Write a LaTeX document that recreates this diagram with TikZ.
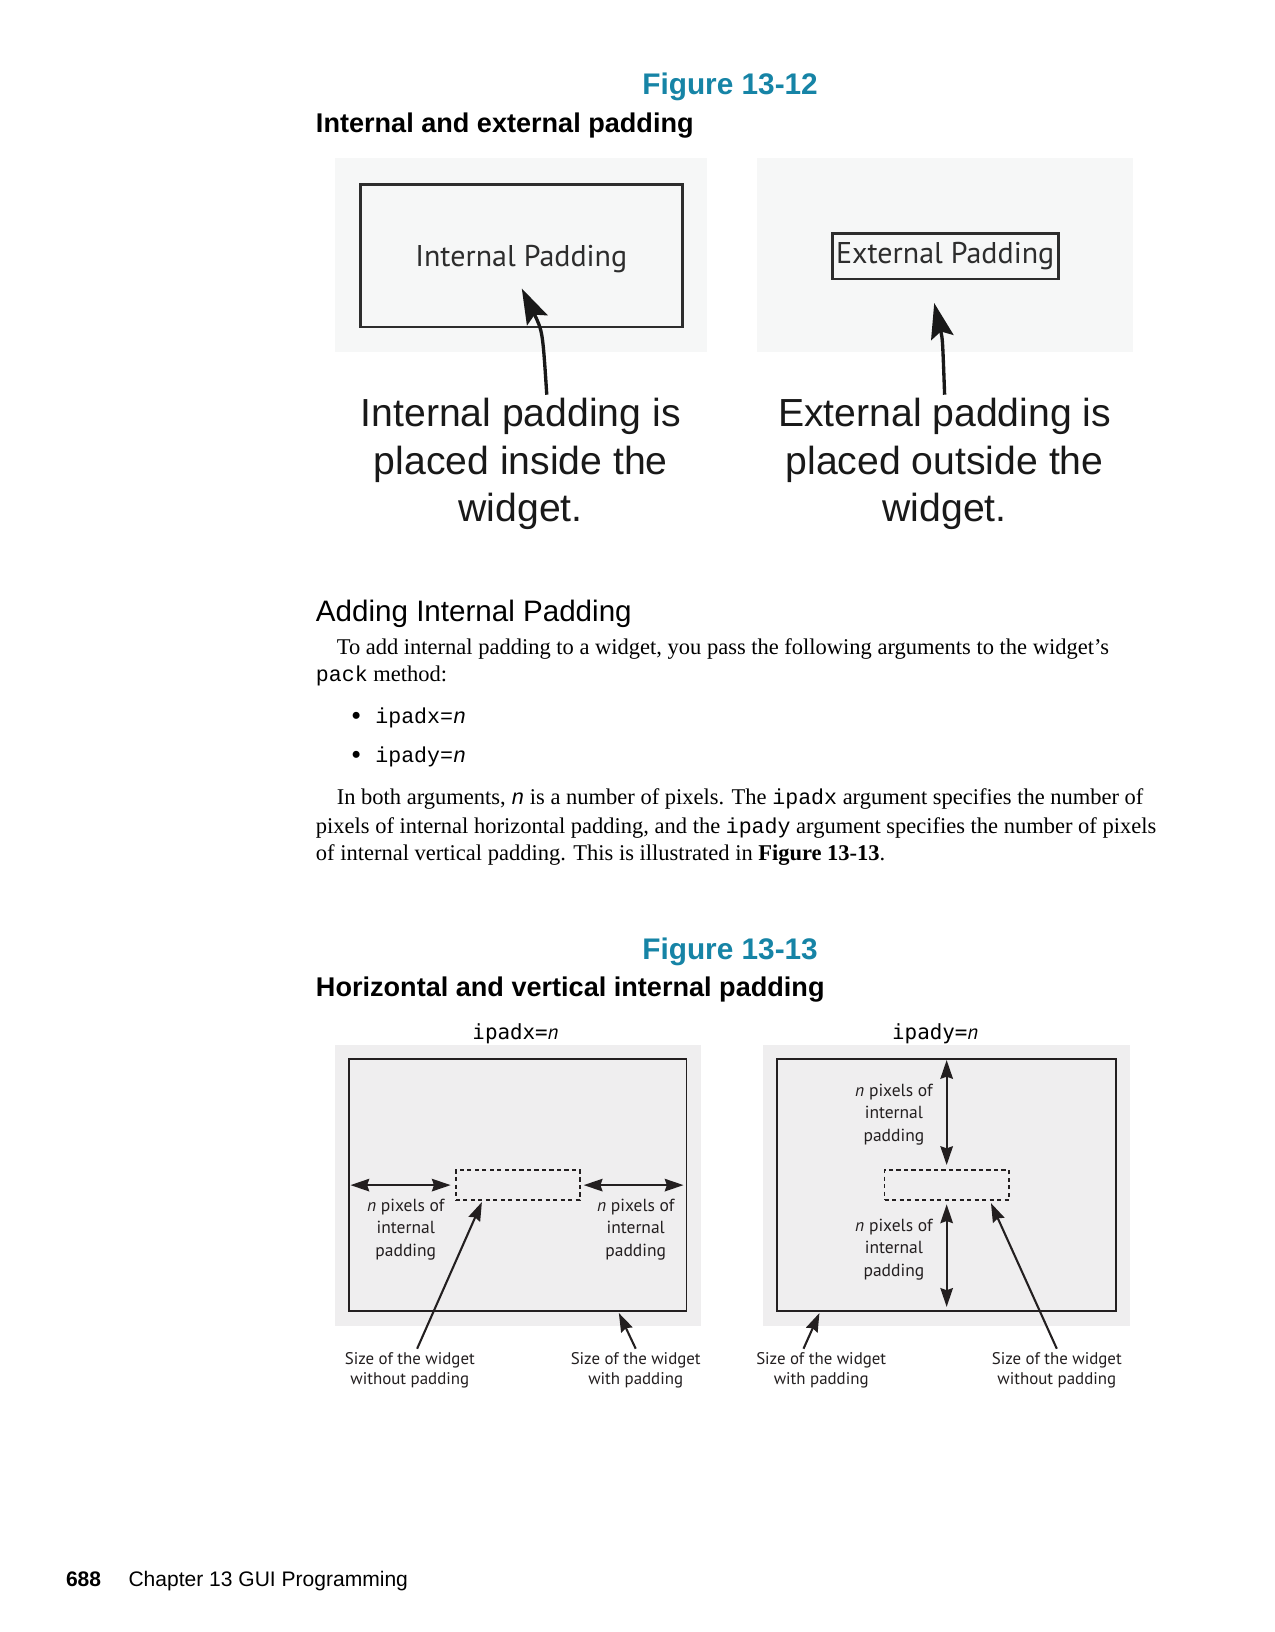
\documentclass[tikz,border=0pt]{standalone}
\usepackage{fontspec}
\setmainfont{Liberation Serif}
\setsansfont{Liberation Sans}
\setmonofont[Scale=0.96]{Liberation Mono}
\newfontfamily\figfont{PT Sans}
\newfontfamily\optfont{DejaVu Sans Mono}
\usetikzlibrary{arrows.meta,positioning}

\definecolor{figblue}{RGB}{22,132,166}
\definecolor{shotgray}{RGB}{246,247,247}
\definecolor{panelgray}{RGB}{239,238,239}
\definecolor{ink}{RGB}{35,31,32}
\definecolor{shotink}{RGB}{45,45,45}

\tikzset{
        padtip/.tip   = { Stealth[length=9pt,width=6pt,inset=1pt] },
      figtitle/.style = { anchor=base, inner sep=0pt, text=figblue, font=\sffamily\bfseries\fontsize{14.3}{17}\selectfont },
   figsubtitle/.style = { anchor=base west, inner sep=0pt, font=\sffamily\bfseries\fontsize{13}{15}\selectfont },
       heading/.style = { anchor=base west, inner sep=0pt, font=\sffamily\fontsize{14.2}{17}\selectfont },
      bodyline/.style = { anchor=base west, inner sep=0pt, font=\fontsize{10.8}{13.3}\selectfont },
     bodybullet/.style = { anchor=base, inner sep=0pt, font=\fontsize{14}{14}\selectfont },
       shotbox/.style = { draw=shotink, line width=1.3pt, text=shotink, font=\figfont\fontsize{14.4}{16}\selectfont },
      shotnote/.style = { anchor=north, align=center, inner sep=1.25pt, text=black!90, font=\sffamily\fontsize{18.8}{23}\selectfont },
      bigarrow/.style = { line width=1.6pt, black!90, -{Stealth[length=17pt,width=11pt,inset=3pt]} },
        widget/.style = { draw=ink, line width=0.8pt, inner sep=0pt },
      unpadded/.style = { draw=ink, line width=0.9pt, inner sep=0pt, dash pattern=on 2pt off 1.6pt },
      padarrow/.style = { ink, line width=1pt, -padtip },
        twoway/.style = { ink, line width=1pt, padtip-padtip },
      padlabel/.style = { align=center, inner sep=0pt, text=ink, font=\figfont\fontsize{8.4}{10.7}\selectfont },
     sizelabel/.style = { anchor=north, align=center, inner sep=1.5pt, text=ink, font=\figfont\fontsize{8.1}{9.8}\selectfont },
      optlabel/.style = { anchor=base, inner sep=0pt, font=\optfont\fontsize{10}{12}\selectfont },
        footer/.style = { anchor=base west, inner sep=0pt, font=\sffamily\fontsize{10.1}{12}\selectfont }
}

\begin{document}
\begin{tikzpicture}[x=0.5pt, y=-0.5pt]
  \fill[white] (0,0) rectangle (1224,1567);
  \useasboundingbox (0,0) rectangle (1224,1567);

  % figure 13-12
  \node (figA) at(701,91) [figtitle] {Figure 13-12};
  \node (figAsub) at(303,127) [figsubtitle] {Internal and external padding};

  \fill[shotgray] (322,152) rectangle (679,338);
  \fill[shotgray] (727,152) rectangle (1088,338);

  \node (intbox) at(500.5,245.5) [shotbox, minimum width=154.5pt, minimum height=68.5pt, text depth=0pt] {Internal Padding};
  \node (extbox) at(907.5,246) [shotbox, minimum width=108.5pt, minimum height=22pt, inner sep=1pt] {External Padding};

  \node (intnote) at(500,379) [shotnote] {Internal padding is\\placed inside the\\widget.};
  \node (extnote) at(907,379) [shotnote] {External padding is\\placed outside the\\widget.};

  \coordinate (inttip) at(501,277);
  \coordinate (exttip) at(897,291);
  \draw[bigarrow] ([xshift=12.5pt]intnote.north) .. controls (521,318) .. (inttip);
  \draw[bigarrow] (extnote.north) .. controls (905,325) .. (exttip);

  % text of the page
  \node (addhead) at(303,597) [heading] {Adding Internal Padding};
  \node (parA1) at(323,628) [bodyline] {To add internal padding to a widget, you pass the following arguments to the widget’s};
  \node (parA2) at(303,654) [bodyline] {\texttt{pack} method:};
  \node (dotA) at(342,697) [bodybullet] {\textbullet};
  \node (itemA) at(360,695) [bodyline] {\texttt{ipadx=\textit{n}}};
  \node (dotB) at(342,734) [bodybullet] {\textbullet};
  \node (itemB) at(360,732) [bodyline] {\texttt{ipady=\textit{n}}};
  \node (parB1) at(323,772) [bodyline] {In both arguments, \texttt{\textit{n}} is a number of pixels. The \texttt{ipadx} argument specifies the number of};
  \node (parB2) at(303,800) [bodyline] {pixels of internal horizontal padding, and the \texttt{ipady} argument specifies the number of pixels};
  \node (parB3) at(303,826) [bodyline] {of internal vertical padding. This is illustrated in \textbf{Figure 13-13}.};

  % figure 13-13
  \node (figB) at(701,921) [figtitle] {Figure 13-13};
  \node (figBsub) at(303,957) [figsubtitle] {Horizontal and vertical internal padding};

  \node (xopt) at(495,998) [optlabel] {ipadx={\figfont\itshape n}};
  \node (yopt) at(898,998) [optlabel] {ipady={\figfont\itshape n}};

  \fill[panelgray] (322,1003) rectangle (673,1273);
  \fill[panelgray] (733,1003) rectangle (1085,1273);

  \node (xwidget) at(497.15,1137.75) [widget, minimum width=161.85pt, minimum height=121.15pt] {};
  \node (xinner) at(497.1,1137.9) [unpadded, minimum width=59.5pt, minimum height=14.4pt] {};
  \node (ywidget) at(908.85,1137.75) [widget, minimum width=162.85pt, minimum height=121.15pt] {};
  \node (yinner) at(908.95,1137.9) [unpadded, minimum width=59.65pt, minimum height=14.4pt] {};

  \node (xleft) at(389.6,1180.5) [padlabel] {\textit{n} pixels of\\internal\\padding};
  \node (xright) at(610.4,1180.5) [padlabel] {\textit{n} pixels of\\internal\\padding};
  \node (ytop) at(858.3,1070) [padlabel] {\textit{n} pixels of\\internal\\padding};
  \node (ybottom) at(858.3,1199.6) [padlabel] {\textit{n} pixels of\\internal\\padding};

  \node (xwithout) at(393.5,1295) [sizelabel] {Size of the widget\\without padding};
  \node (xwith) at(610.4,1295) [sizelabel] {Size of the widget\\with padding};
  \node (ywith) at(788.5,1295) [sizelabel] {Size of the widget\\with padding};
  \node (ywithout) at(1014.7,1295) [sizelabel] {Size of the widget\\without padding};

  % padding arrows
  \coordinate (xwest) at (xwidget.west |- xinner.west);
  \coordinate (xeast) at (xwidget.east |- xinner.east);
  \coordinate (ynorth) at (yinner.north |- ywidget.north);
  \coordinate (ysouth) at (yinner.south |- ywidget.south);
  \draw[twoway] ([xshift=1pt]xwest) -- ([xshift=-2pt]xinner.west);
  \draw[twoway] ([xshift=1.5pt]xinner.east) -- ([xshift=-1.75pt]xeast);
  \draw[twoway] ([yshift=-1pt]ynorth) -- ([yshift=2pt]yinner.north);
  \draw[twoway] ([yshift=-1.6pt]yinner.south) -- ([yshift=2.45pt]ysouth);

  \coordinate (xintip) at ([xshift=13pt,yshift=-0.5pt]xinner.south west);
  \coordinate (xouttip) at ([xshift=-32.8pt,yshift=-0.5pt]xwidget.south east);
  \coordinate (yintip) at ([xshift=-9pt,yshift=-1pt]yinner.south east);
  \coordinate (youttip) at ([xshift=20.8pt,yshift=-0.5pt]ywidget.south west);
  \draw[padarrow] ([xshift=3.5pt]xwithout.north) -- (xintip);
  \draw[padarrow] (xwith.north) -- (xouttip);
  \draw[padarrow] ([xshift=-8.5pt]ywith.north) -- (youttip);
  \draw[padarrow] (ywithout.north) -- (yintip);

  % footer
  \node (pagenum) at(63,1523.5) [footer, font=\sffamily\bfseries\fontsize{10.1}{12}\selectfont] {688};
  \node (runhead) at(123,1523.5) [footer] {Chapter 13 GUI Programming};
\end{tikzpicture}
\end{document}
